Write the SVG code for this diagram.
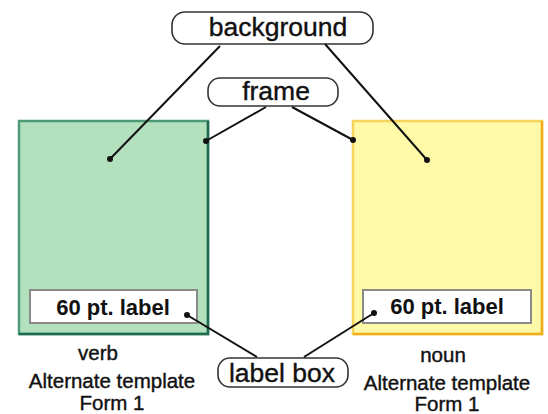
<svg xmlns="http://www.w3.org/2000/svg" width="548" height="414" viewBox="0 0 548 414">
<style>
.pill{fill:#fff;stroke:#333;stroke-width:1.6}
.t{font-family:"Liberation Sans",Arial,sans-serif;font-size:26.5px;fill:#111;stroke:#111;stroke-width:0.4;text-anchor:middle}
.lb{fill:#fff;stroke:#8a8a8a;stroke-width:2}
.lt{font-family:"Liberation Sans",Arial,sans-serif;font-size:22px;font-weight:bold;fill:#111;text-anchor:middle}
.cap{font-family:"Liberation Sans",Arial,sans-serif;font-size:20.5px;fill:#111;stroke:#111;stroke-width:0.4;text-anchor:middle}
.c{stroke:#111;stroke-width:2;fill:none}
.d{fill:#111}
</style>
<rect width="548" height="414" fill="#fff"/>
<g id="verb-form">
<rect x="19" y="121" width="189" height="213" fill="#b3e0bd" stroke="#4d9a78" stroke-width="2.5"/>
<path d="M208 121 V334 H19" stroke="#1f6b4e" stroke-width="2.5" fill="none"/>
<rect class="lb" x="30" y="290" width="167" height="33"/>
<text class="lt" x="113" y="315">60 pt. label</text>
</g>
<g id="noun-form">
<rect x="353" y="121" width="189" height="213" fill="#fffaa8" stroke="#f7d35a" stroke-width="2.5"/>
<path d="M542 121 V334 H353" stroke="#f0ae1e" stroke-width="2.5" fill="none"/>
<rect class="lb" x="363" y="290" width="168" height="33"/>
<text class="lt" x="447" y="314">60 pt. label</text>
</g>
<g id="background">
<rect class="pill" x="172" y="12" width="201" height="32" rx="13"/>
<text class="t" x="278" y="36">background</text>
</g>
<g id="frame">
<rect class="pill" x="208" y="78" width="130" height="28" rx="12"/>
<text class="t" x="276" y="100">frame</text>
</g>
<g id="label-box">
<rect class="pill" x="218" y="358" width="130" height="29" rx="12"/>
<text class="t" x="282" y="382">label box</text>
</g>
<g id="captions">
<text class="cap" x="98" y="360">verb</text>
<text class="cap" x="112" y="388">Alternate template</text>
<text class="cap" x="112" y="410">Form 1</text>
<text class="cap" x="443" y="362">noun</text>
<text class="cap" x="447" y="390">Alternate template</text>
<text class="cap" x="447" y="411">Form 1</text>
</g>
<g id="connectors">
<line class="c" x1="220" y1="46" x2="110" y2="159"/>
<circle class="d" cx="110" cy="159" r="3"/>
<line class="c" x1="325" y1="44" x2="427" y2="160"/>
<circle class="d" cx="427" cy="160" r="3"/>
<line class="c" x1="266" y1="107" x2="206" y2="141"/>
<circle class="d" cx="206" cy="141" r="3"/>
<line class="c" x1="292" y1="107" x2="353" y2="140"/>
<circle class="d" cx="353" cy="140" r="3"/>
<line class="c" x1="257" y1="357" x2="187" y2="315"/>
<circle class="d" cx="187" cy="315" r="3"/>
<line class="c" x1="304" y1="357" x2="374" y2="313"/>
<circle class="d" cx="374" cy="313" r="3"/>
</g>
</svg>
